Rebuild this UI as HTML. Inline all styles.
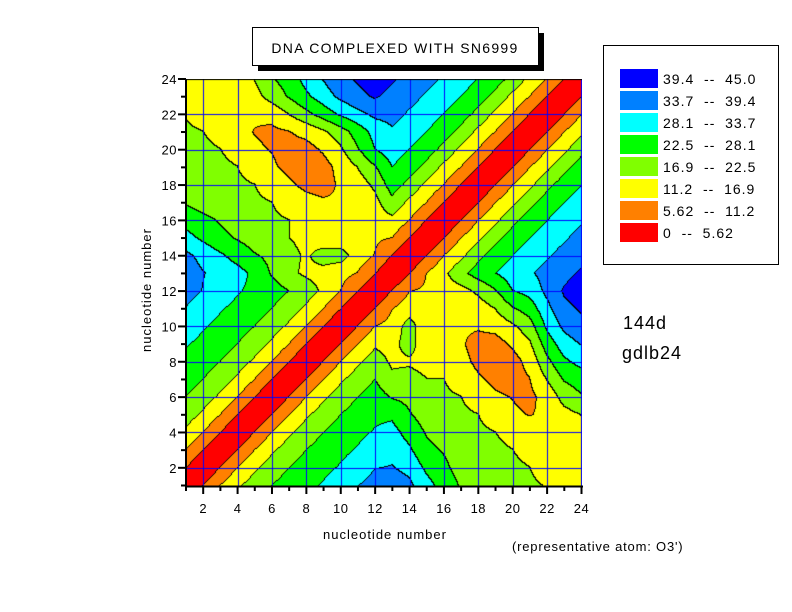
<!DOCTYPE html>
<html><head><meta charset="utf-8"><style>
body{margin:0;background:#fff;width:792px;height:612px;overflow:hidden;position:relative;font-family:"Liberation Sans",sans-serif;}
canvas{position:absolute;left:186px;top:79px;}
svg{position:absolute;left:0;top:0;}
#leg text{white-space:pre;}
</style></head><body>
<canvas id="c" width="396" height="407"></canvas>
<svg width="792" height="612" font-family="Liberation Sans, sans-serif">
<rect x="258" y="33" width="286" height="38" fill="#000"/>
<rect x="252.5" y="27.5" width="286" height="38" fill="#fff" stroke="#000"/>
<text x="395" y="53" font-size="14" text-anchor="middle" letter-spacing="1.3">DNA COMPLEXED WITH SN6999</text>
<rect x="603.5" y="45.5" width="175" height="219" fill="#fff" stroke="#000"/>
<g id="leg" font-size="14" letter-spacing="1"></g>
<text x="623" y="329" font-size="18" letter-spacing="1">144d</text>
<text x="622" y="359" font-size="18" letter-spacing="1">gdlb24</text>
<text x="512" y="551" font-size="13" letter-spacing="0.8">(representative atom: O3')</text>
<text x="385" y="539" font-size="13" text-anchor="middle" letter-spacing="1">nucleotide number</text>
<text transform="translate(151,290) rotate(-90)" font-size="13" text-anchor="middle" letter-spacing="1">nucleotide number</text>
<g id="ax" stroke="#000"></g>
<g id="lab" font-size="13" letter-spacing="0.5"></g>
</svg>
<script>
var cols=["#ff0000","#ff8000","#ffff00","#80ff00","#00ff00","#00ffff","#0080ff","#0000ff"];
var th=[5.62,11.2,16.9,22.5,28.1,33.7,39.4];
var f1=[0,5.8,11.2,16,19.5,22.5,25,27,28.5,30.5,33.5,36];
var f2=[0,5.5,11.2,15.5,21,25,28,31,33,35.5,38,40];
var G=[
[14,14,14,15,17,22,25,30,34,38,40,42],
[15,13,13,13,15,19,23,27,31,35,38,40],
[16.5,14,13,12,12,13,17,21,25,29,32,35],
[18,17,15,13,11,10,11,13,16,20,25,30],
[19,18,17,15,12,11,9,9,12,16,22,28],
[19,19,18,17,14,12,10,8,9,13,17,22],
[20,20,19,18,17,14,12,10,9,12,14,18],
[22,20,19,18,18,17,14,13,12,12,13,15],
[26,24,22,20,19,18,17,14,13,13,13,14],
[30,27,24,22,20,18,17,15,13,13,12,12],
[35,32,29,26,23,21,19,16,19.5,19.5,14,11],
[37,34,32,30,27,22,18,16,15,13,11,6]];
function M(i,j){
 if(i<=12&&j<=12)return f1[Math.abs(i-j)];
 if(i>12&&j>12)return f2[Math.abs(i-j)];
 if(i>12){var t=i;i=j;j=t;}
 return G[25-j-1][i-1];
}
var W=396,H=407,ux=395.5/23,uy=406.5/23;
var cv=document.getElementById('c'),ctx=cv.getContext('2d');
var img=ctx.createImageData(W,H),band=new Int8Array(W*H);
function val(u,v){
 var i0=Math.min(23,Math.max(1,Math.floor(u))),j0=Math.min(23,Math.max(1,Math.floor(v)));
 var a=u-i0,b=v-j0;
 return M(i0,j0)*(1-a)*(1-b)+M(i0+1,j0)*a*(1-b)+M(i0,j0+1)*(1-a)*b+M(i0+1,j0+1)*a*b;
}
var rgb=cols.map(function(c){return[parseInt(c.substr(1,2),16),parseInt(c.substr(3,2),16),parseInt(c.substr(5,2),16)]});
for(var y=0;y<H;y++)for(var x=0;x<W;x++){
 var u=1+(x+0.5)/ux,v=1+(406.5-(y+0.5))/uy;
 var z=val(u,v),k=0;while(k<7&&z>=th[k])k++;
 band[y*W+x]=k;
}
for(var y=0;y<H;y++)for(var x=0;x<W;x++){
 var k=band[y*W+x],p=(y*W+x)*4,c=rgb[k];
 var edge=(x<W-1&&band[y*W+x+1]!=k)||(y<H-1&&band[(y+1)*W+x]!=k);
 if(edge)c=[0,0,0];
 img.data[p]=c[0];img.data[p+1]=c[1];img.data[p+2]=c[2];img.data[p+3]=255;
}
ctx.putImageData(img,0,0);
ctx.fillStyle="#0000ff";
for(var k=2;k<=24;k+=2){
 var px=Math.round((k-1)*ux);ctx.fillRect(Math.min(px,W-1),0,1,H);
 var py=Math.round(406.5-(k-1)*uy);ctx.fillRect(0,Math.max(py,0),W,1);
}
ctx.fillStyle="#000";ctx.fillRect(0,0,W,1);
var ns="http://www.w3.org/2000/svg";
function el(p,t,a,txt){var e=document.createElementNS(ns,t);for(var k in a)e.setAttribute(k,a[k]);if(txt)e.textContent=txt;p.appendChild(e);}
var ax=document.getElementById('ax'),lab=document.getElementById('lab'),leg=document.getElementById('leg');
el(ax,'line',{x1:186,y1:79,x2:186,y2:487,'stroke-width':2});
el(ax,'line',{x1:185,y1:486.5,x2:583,y2:486.5,'stroke-width':2});
for(var k=1;k<=24;k++){
 var X=186+(k-1)*ux,Y=485.5-(k-1)*uy,L=(k%2==0)?7:4;
 el(ax,'line',{x1:X,y1:486,x2:X,y2:486+L+1,'stroke-width':2});
 el(ax,'line',{x1:186-L-1,y1:Y,x2:186,y2:Y,'stroke-width':2});
 if(k%2==0){
  el(lab,'text',{x:X,y:513,'text-anchor':'middle'},String(k));
  el(lab,'text',{x:177,y:Y+5,'text-anchor':'end'},String(k));
 }
}
var lt=["39.4  --  45.0","33.7  --  39.4","28.1  --  33.7","22.5  --  28.1","16.9  --  22.5","11.2  --  16.9","5.62  --  11.2","0  --  5.62"];
for(var i=0;i<8;i++){
 var ty=69+i*22;
 el(leg,'rect',{x:620,y:ty,width:38,height:19,fill:cols[7-i]});
 el(leg,'text',{x:663,y:ty+15},lt[i]);
}
</script>
</body></html>
